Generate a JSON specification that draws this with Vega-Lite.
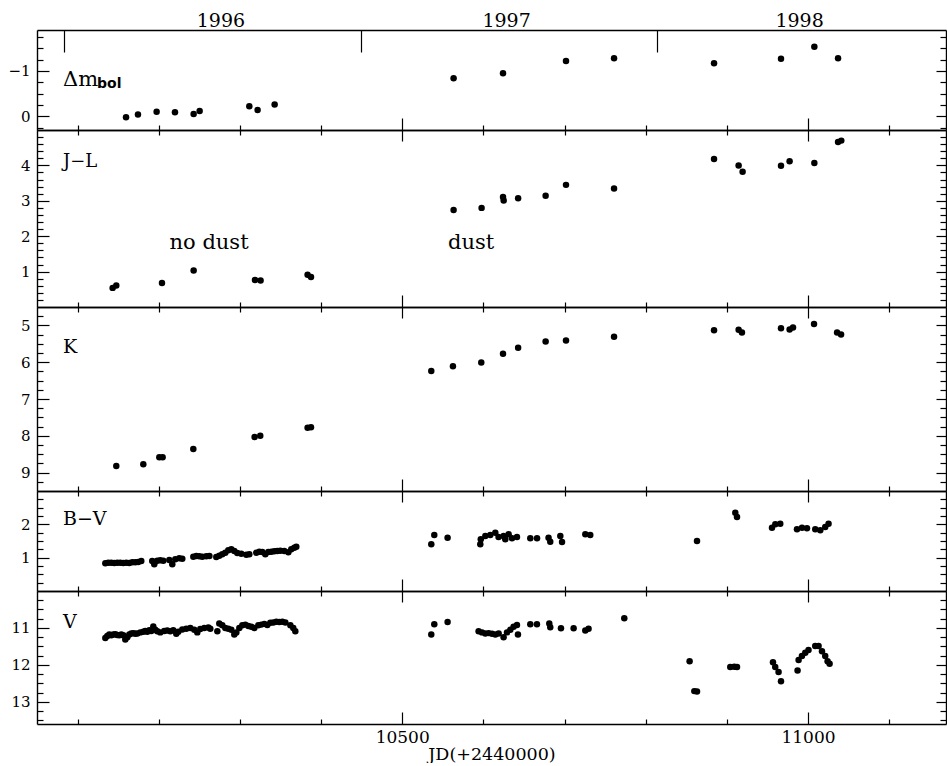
{
  "$schema": "https://vega.github.io/schema/vega-lite/v6.json",
  "background": "white",
  "padding": {"left": 5, "top": 5, "right": 0, "bottom": 0},
  "datasets": {
    "dmbol": [
      {"jd": 10159.7, "mag": 0.02}, {"jd": 10174.4, "mag": -0.04}, {"jd": 10197.4, "mag": -0.10},
      {"jd": 10220.0, "mag": -0.09}, {"jd": 10243.0, "mag": -0.05}, {"jd": 10250.4, "mag": -0.12},
      {"jd": 10311.6, "mag": -0.22}, {"jd": 10321.8, "mag": -0.14}, {"jd": 10342.8, "mag": -0.26},
      {"jd": 10563.3, "mag": -0.84}, {"jd": 10624.2, "mag": -0.95}, {"jd": 10701.8, "mag": -1.22},
      {"jd": 10761.0, "mag": -1.28}, {"jd": 10884.2, "mag": -1.17}, {"jd": 10966.7, "mag": -1.27},
      {"jd": 11007.8, "mag": -1.53}, {"jd": 11037.0, "mag": -1.28}
    ],
    "jl": [
      {"jd": 10143.2, "mag": 0.54}, {"jd": 10147.7, "mag": 0.61}, {"jd": 10204.0, "mag": 0.68},
      {"jd": 10243.0, "mag": 1.03}, {"jd": 10318.6, "mag": 0.76}, {"jd": 10325.5, "mag": 0.75},
      {"jd": 10383.4, "mag": 0.91}, {"jd": 10387.6, "mag": 0.85}, {"jd": 10563.3, "mag": 2.74},
      {"jd": 10597.8, "mag": 2.80}, {"jd": 10624.2, "mag": 3.11}, {"jd": 10625.0, "mag": 3.01},
      {"jd": 10642.8, "mag": 3.07}, {"jd": 10676.7, "mag": 3.14}, {"jd": 10701.8, "mag": 3.45},
      {"jd": 10761.0, "mag": 3.35}, {"jd": 10884.2, "mag": 4.18}, {"jd": 10914.5, "mag": 4.00},
      {"jd": 10919.4, "mag": 3.82}, {"jd": 10966.7, "mag": 3.99}, {"jd": 10977.3, "mag": 4.12},
      {"jd": 11007.8, "mag": 4.07}, {"jd": 11037.0, "mag": 4.66}, {"jd": 11041.0, "mag": 4.70}
    ],
    "k": [
      {"jd": 10147.7, "mag": 8.82}, {"jd": 10181.0, "mag": 8.77}, {"jd": 10200.7, "mag": 8.58},
      {"jd": 10204.8, "mag": 8.58}, {"jd": 10242.6, "mag": 8.36}, {"jd": 10318.1, "mag": 8.03},
      {"jd": 10325.1, "mag": 8.00}, {"jd": 10383.4, "mag": 7.78}, {"jd": 10387.6, "mag": 7.77},
      {"jd": 10535.8, "mag": 6.24}, {"jd": 10562.5, "mag": 6.11}, {"jd": 10597.4, "mag": 6.01},
      {"jd": 10624.2, "mag": 5.77}, {"jd": 10642.8, "mag": 5.61}, {"jd": 10676.7, "mag": 5.44},
      {"jd": 10701.8, "mag": 5.41}, {"jd": 10761.0, "mag": 5.31}, {"jd": 10884.2, "mag": 5.13},
      {"jd": 10914.5, "mag": 5.12}, {"jd": 10918.6, "mag": 5.19}, {"jd": 10966.7, "mag": 5.08},
      {"jd": 10977.3, "mag": 5.11}, {"jd": 10981.5, "mag": 5.06}, {"jd": 11007.4, "mag": 4.96},
      {"jd": 11035.8, "mag": 5.19}, {"jd": 11040.7, "mag": 5.25}
    ],
    "bv": [
      {"jd": 10134.2, "mag": 0.83}, {"jd": 10137.8, "mag": 0.85}, {"jd": 10141.5, "mag": 0.85},
      {"jd": 10145.2, "mag": 0.84}, {"jd": 10148.9, "mag": 0.85}, {"jd": 10152.6, "mag": 0.85},
      {"jd": 10156.3, "mag": 0.84}, {"jd": 10160.0, "mag": 0.85}, {"jd": 10163.7, "mag": 0.84},
      {"jd": 10167.4, "mag": 0.86}, {"jd": 10171.1, "mag": 0.86}, {"jd": 10174.8, "mag": 0.87},
      {"jd": 10178.5, "mag": 0.90}, {"jd": 10192.0, "mag": 0.90}, {"jd": 10194.5, "mag": 0.80},
      {"jd": 10198.2, "mag": 0.91}, {"jd": 10201.9, "mag": 0.92}, {"jd": 10205.6, "mag": 0.91},
      {"jd": 10213.0, "mag": 0.93}, {"jd": 10216.7, "mag": 0.80}, {"jd": 10220.4, "mag": 0.95},
      {"jd": 10225.3, "mag": 0.98}, {"jd": 10229.0, "mag": 0.97}, {"jd": 10242.6, "mag": 1.03},
      {"jd": 10246.3, "mag": 1.05}, {"jd": 10250.0, "mag": 1.04}, {"jd": 10253.7, "mag": 1.03},
      {"jd": 10258.6, "mag": 1.04}, {"jd": 10262.4, "mag": 1.05}, {"jd": 10270.9, "mag": 1.02},
      {"jd": 10274.6, "mag": 1.06}, {"jd": 10278.3, "mag": 1.10}, {"jd": 10282.0, "mag": 1.15},
      {"jd": 10285.7, "mag": 1.22}, {"jd": 10289.4, "mag": 1.25}, {"jd": 10293.1, "mag": 1.20},
      {"jd": 10296.8, "mag": 1.14}, {"jd": 10301.7, "mag": 1.12}, {"jd": 10307.9, "mag": 1.09},
      {"jd": 10311.6, "mag": 1.10}, {"jd": 10320.2, "mag": 1.15}, {"jd": 10323.9, "mag": 1.18},
      {"jd": 10327.6, "mag": 1.17}, {"jd": 10331.3, "mag": 1.10}, {"jd": 10335.0, "mag": 1.17},
      {"jd": 10338.7, "mag": 1.18}, {"jd": 10342.4, "mag": 1.19}, {"jd": 10346.1, "mag": 1.20},
      {"jd": 10349.8, "mag": 1.21}, {"jd": 10354.7, "mag": 1.20}, {"jd": 10359.7, "mag": 1.16},
      {"jd": 10363.3, "mag": 1.25}, {"jd": 10367.0, "mag": 1.30}, {"jd": 10369.5, "mag": 1.33},
      {"jd": 10535.8, "mag": 1.40}, {"jd": 10539.5, "mag": 1.68}, {"jd": 10555.9, "mag": 1.60},
      {"jd": 10596.2, "mag": 1.40}, {"jd": 10596.8, "mag": 1.55}, {"jd": 10602.4, "mag": 1.65},
      {"jd": 10608.5, "mag": 1.68}, {"jd": 10614.7, "mag": 1.75}, {"jd": 10618.7, "mag": 1.62},
      {"jd": 10624.9, "mag": 1.65}, {"jd": 10627.0, "mag": 1.55}, {"jd": 10631.1, "mag": 1.70},
      {"jd": 10635.3, "mag": 1.58}, {"jd": 10641.4, "mag": 1.62}, {"jd": 10657.8, "mag": 1.58},
      {"jd": 10666.1, "mag": 1.58}, {"jd": 10680.3, "mag": 1.60}, {"jd": 10682.4, "mag": 1.48},
      {"jd": 10694.8, "mag": 1.65}, {"jd": 10696.9, "mag": 1.47}, {"jd": 10725.6, "mag": 1.70},
      {"jd": 10731.7, "mag": 1.68}, {"jd": 10863.2, "mag": 1.50}, {"jd": 10910.4, "mag": 2.35},
      {"jd": 10912.5, "mag": 2.22}, {"jd": 10955.6, "mag": 1.90}, {"jd": 10959.7, "mag": 2.00},
      {"jd": 10965.8, "mag": 2.02}, {"jd": 10986.4, "mag": 1.85}, {"jd": 10992.6, "mag": 1.90},
      {"jd": 10998.7, "mag": 1.88}, {"jd": 11008.9, "mag": 1.85}, {"jd": 11015.1, "mag": 1.82},
      {"jd": 11021.2, "mag": 1.92}, {"jd": 11025.3, "mag": 2.02}
    ],
    "v": [
      {"jd": 10134.2, "mag": 11.27}, {"jd": 10136.6, "mag": 11.22}, {"jd": 10139.1, "mag": 11.18},
      {"jd": 10141.5, "mag": 11.20}, {"jd": 10144.0, "mag": 11.18}, {"jd": 10146.5, "mag": 11.17},
      {"jd": 10148.9, "mag": 11.19}, {"jd": 10151.4, "mag": 11.20}, {"jd": 10153.9, "mag": 11.18},
      {"jd": 10156.3, "mag": 11.20}, {"jd": 10158.8, "mag": 11.31}, {"jd": 10161.3, "mag": 11.25},
      {"jd": 10163.7, "mag": 11.18}, {"jd": 10166.2, "mag": 11.15}, {"jd": 10168.7, "mag": 11.14},
      {"jd": 10171.1, "mag": 11.16}, {"jd": 10173.6, "mag": 11.15}, {"jd": 10177.3, "mag": 11.12},
      {"jd": 10181.0, "mag": 11.10}, {"jd": 10183.4, "mag": 11.08}, {"jd": 10185.9, "mag": 11.10},
      {"jd": 10188.4, "mag": 11.06}, {"jd": 10190.8, "mag": 11.08}, {"jd": 10193.3, "mag": 10.96},
      {"jd": 10195.7, "mag": 11.05}, {"jd": 10198.2, "mag": 11.09}, {"jd": 10201.9, "mag": 11.12},
      {"jd": 10206.8, "mag": 11.08}, {"jd": 10210.5, "mag": 11.07}, {"jd": 10214.2, "mag": 11.09},
      {"jd": 10217.9, "mag": 11.06}, {"jd": 10221.6, "mag": 11.16}, {"jd": 10224.1, "mag": 11.10},
      {"jd": 10229.0, "mag": 11.04}, {"jd": 10233.9, "mag": 11.02}, {"jd": 10238.9, "mag": 11.00},
      {"jd": 10243.8, "mag": 11.05}, {"jd": 10247.5, "mag": 11.12}, {"jd": 10251.2, "mag": 11.03},
      {"jd": 10256.1, "mag": 11.00}, {"jd": 10261.1, "mag": 10.99}, {"jd": 10263.5, "mag": 11.02},
      {"jd": 10272.2, "mag": 11.09}, {"jd": 10274.6, "mag": 10.88}, {"jd": 10278.3, "mag": 10.93},
      {"jd": 10282.0, "mag": 11.00}, {"jd": 10285.7, "mag": 11.02}, {"jd": 10289.4, "mag": 11.05},
      {"jd": 10293.1, "mag": 11.18}, {"jd": 10295.6, "mag": 11.12}, {"jd": 10299.3, "mag": 11.00},
      {"jd": 10303.0, "mag": 10.93}, {"jd": 10306.7, "mag": 10.91}, {"jd": 10310.4, "mag": 10.95},
      {"jd": 10314.1, "mag": 10.97}, {"jd": 10317.8, "mag": 11.00}, {"jd": 10322.7, "mag": 10.93},
      {"jd": 10326.4, "mag": 10.91}, {"jd": 10330.1, "mag": 10.89}, {"jd": 10333.8, "mag": 10.92},
      {"jd": 10337.5, "mag": 10.86}, {"jd": 10341.2, "mag": 10.85}, {"jd": 10344.9, "mag": 10.83},
      {"jd": 10348.6, "mag": 10.84}, {"jd": 10352.3, "mag": 10.83}, {"jd": 10356.0, "mag": 10.85},
      {"jd": 10362.2, "mag": 10.93}, {"jd": 10365.8, "mag": 11.00}, {"jd": 10368.3, "mag": 11.09},
      {"jd": 10535.8, "mag": 11.18}, {"jd": 10539.5, "mag": 10.90}, {"jd": 10555.9, "mag": 10.84},
      {"jd": 10594.1, "mag": 11.09}, {"jd": 10598.3, "mag": 11.12}, {"jd": 10602.4, "mag": 11.15},
      {"jd": 10606.5, "mag": 11.14}, {"jd": 10610.6, "mag": 11.16}, {"jd": 10614.7, "mag": 11.18},
      {"jd": 10618.8, "mag": 11.15}, {"jd": 10624.9, "mag": 11.25}, {"jd": 10629.1, "mag": 11.12},
      {"jd": 10633.2, "mag": 11.05}, {"jd": 10637.2, "mag": 10.97}, {"jd": 10641.4, "mag": 10.92},
      {"jd": 10642.6, "mag": 11.18}, {"jd": 10657.8, "mag": 10.90}, {"jd": 10666.0, "mag": 10.90},
      {"jd": 10681.2, "mag": 10.88}, {"jd": 10682.4, "mag": 10.98}, {"jd": 10695.6, "mag": 11.01},
      {"jd": 10711.2, "mag": 11.01}, {"jd": 10725.6, "mag": 11.07}, {"jd": 10729.6, "mag": 11.02},
      {"jd": 10773.6, "mag": 10.74}, {"jd": 10854.1, "mag": 11.90}, {"jd": 10859.9, "mag": 12.71},
      {"jd": 10863.2, "mag": 12.72}, {"jd": 10904.2, "mag": 12.06}, {"jd": 10909.1, "mag": 12.05},
      {"jd": 10912.5, "mag": 12.06}, {"jd": 10956.8, "mag": 11.93}, {"jd": 10959.6, "mag": 12.06},
      {"jd": 10963.7, "mag": 12.19}, {"jd": 10966.7, "mag": 12.44}, {"jd": 10987.1, "mag": 12.15},
      {"jd": 10988.4, "mag": 11.87}, {"jd": 10992.5, "mag": 11.76}, {"jd": 10996.6, "mag": 11.67},
      {"jd": 11000.6, "mag": 11.60}, {"jd": 11008.9, "mag": 11.49}, {"jd": 11013.0, "mag": 11.49},
      {"jd": 11017.2, "mag": 11.63}, {"jd": 11021.2, "mag": 11.76}, {"jd": 11024.1, "mag": 11.90},
      {"jd": 11026.6, "mag": 11.97}
    ],
    "labels": [
      {"panel": "dm", "jd": 10082, "mag": -0.675, "text": "Δm"},
      {"panel": "bol", "jd": 10124, "mag": -0.675, "text": "bol"},
      {"panel": "jl", "jd": 10082, "mag": 3.95, "text": "J−L"},
      {"panel": "note", "jd": 10262, "mag": 1.65, "text": "no dust"},
      {"panel": "note", "jd": 10585, "mag": 1.65, "text": "dust"},
      {"panel": "k", "jd": 10082, "mag": 5.75, "text": "K"},
      {"panel": "bv", "jd": 10082, "mag": 1.98, "text": "B−V"},
      {"panel": "v", "jd": 10082, "mag": 11.0, "text": "V"}
    ]
  },
  "spacing": 0,
  "bounds": "flush",
  "vconcat": [
    {
      "width": 909, "height": 100,
      "resolve": {"axis": {"x": "independent", "y": "independent"}},
      "layer": [
        {
          "data": {"name": "dmbol"},
          "mark": {"type": "circle", "size": 42, "color": "black", "opacity": 1},
          "encoding": {
            "x": {"field": "jd", "type": "quantitative", "scale": {"domain": [10050, 11170], "nice": false, "zero": false},
              "axis": {"orient": "bottom", "values": [10100,10200,10300,10400,10500,10600,10700,10800,10900,11000,11100], "labels": false, "title": null,
                "tickSize": {"condition": {"test": "datum.value % 500 === 0", "value": -12}, "value": -5}}},
            "y": {"field": "mag", "type": "quantitative", "scale": {"domain": [-1.9, 0.3], "reverse": true, "nice": false, "zero": false},
              "axis": {"orient": "left", "values": [-1, 0], "format": "d", "title": null, "labelOverlap": false,
                "labelPadding": 19, "labelFontSize": 15, "minExtent": 32, "maxExtent": 32, "tickSize": -12}}
          }
        },
        {
          "data": {"name": "labels"},
          "transform": [{"filter": "datum.panel === 'dm'"}],
          "mark": {"type": "text", "fontSize": 21, "align": "left", "baseline": "alphabetic", "font": "DejaVu Serif", "color": "black"},
          "encoding": {
            "x": {"field": "jd", "type": "quantitative", "scale": {"domain": [10050, 11170], "nice": false, "zero": false},
              "axis": {"orient": "top", "values": [10083.5, 10449.5, 10814.5, 10276, 10628, 10989], "title": null, "labelOverlap": false,
                "labelExpr": "datum.value == 10276 ? '1996' : datum.value == 10628 ? '1997' : datum.value == 10989 ? '1998' : ''",
                "labelFontSize": 19, "labelPadding": 0, "minExtent": 24.3, "maxExtent": 24.3,
                "tickSize": {"condition": {"test": "datum.value == 10083.5 || datum.value == 10449.5 || datum.value == 10814.5", "value": -22}, "value": 0}}},
            "y": {"field": "mag", "type": "quantitative", "scale": {"domain": [-1.9, 0.3], "reverse": true, "nice": false, "zero": false},
              "axis": {"orient": "right", "values": [-1.75,-1.5,-1.25,-1,-0.75,-0.5,-0.25,0,0.25], "labels": false, "title": null,
                "tickSize": {"condition": {"test": "datum.value % 1 === 0", "value": -10}, "value": -6}}},
            "text": {"field": "text"}
          }
        },
        {
          "data": {"name": "labels"},
          "transform": [{"filter": "datum.panel === 'bol'"}],
          "mark": {"type": "text", "fontSize": 14, "font": "DejaVu Sans", "fontWeight": "bold", "align": "left", "baseline": "alphabetic", "dy": 2, "color": "black"},
          "encoding": {
            "x": {"field": "jd", "type": "quantitative", "scale": {"domain": [10050, 11170], "nice": false, "zero": false}, "axis": null},
            "y": {"field": "mag", "type": "quantitative", "scale": {"domain": [-1.9, 0.3], "reverse": true, "nice": false, "zero": false},
              "axis": {"orient": "left", "values": [-1.75,-1.5,-1.25,-0.75,-0.5,-0.25,0.25], "labels": false, "title": null, "domain": false, "tickSize": -6, "minExtent": 0, "maxExtent": 0}},
            "text": {"field": "text"}
          }
        }
      ]
    },
    {
      "width": 909, "height": 177,
      "resolve": {"axis": {"x": "independent", "y": "independent"}},
      "layer": [
        {
          "data": {"name": "jl"},
          "mark": {"type": "circle", "size": 42, "color": "black", "opacity": 1},
          "encoding": {
            "x": {"field": "jd", "type": "quantitative", "scale": {"domain": [10050, 11170], "nice": false, "zero": false},
              "axis": {"orient": "bottom", "values": [10100,10200,10300,10400,10500,10600,10700,10800,10900,11000,11100], "labels": false, "title": null,
                "tickSize": {"condition": {"test": "datum.value % 500 === 0", "value": -12}, "value": -5}}},
            "y": {"field": "mag", "type": "quantitative", "scale": {"domain": [0, 5], "nice": false, "zero": false},
              "axis": {"orient": "left", "values": [1, 2, 3, 4], "format": "d", "title": null, "labelOverlap": false,
                "labelPadding": 19, "labelFontSize": 15, "minExtent": 32, "maxExtent": 32, "tickSize": -12}}
          }
        },
        {
          "data": {"name": "labels"},
          "transform": [{"filter": "datum.panel === 'jl'"}],
          "mark": {"type": "text", "fontSize": 18, "align": "left", "baseline": "alphabetic", "font": "DejaVu Serif", "color": "black"},
          "encoding": {
            "x": {"field": "jd", "type": "quantitative", "scale": {"domain": [10050, 11170], "nice": false, "zero": false},
              "axis": {"orient": "top", "values": [10100,10200,10300,10400,10500,10600,10700,10800,10900,11000,11100], "labels": false, "title": null,
                "tickSize": {"condition": {"test": "datum.value % 500 === 0", "value": -11}, "value": -5}}},
            "y": {"field": "mag", "type": "quantitative", "scale": {"domain": [0, 5], "nice": false, "zero": false},
              "axis": {"orient": "right", "values": [0.2,0.4,0.6,0.8,1,1.2,1.4,1.6,1.8,2,2.2,2.4,2.6,2.8,3,3.2,3.4,3.6,3.8,4,4.2,4.4,4.6,4.8], "labels": false, "title": null,
                "tickSize": {"condition": {"test": "datum.value % 1 === 0", "value": -10}, "value": -6}}},
            "text": {"field": "text"}
          }
        },
        {
          "data": {"name": "labels"},
          "transform": [{"filter": "datum.panel === 'note'"}],
          "mark": {"type": "text", "fontSize": 21, "align": "center", "baseline": "alphabetic", "font": "DejaVu Serif", "color": "black"},
          "encoding": {
            "x": {"field": "jd", "type": "quantitative", "scale": {"domain": [10050, 11170], "nice": false, "zero": false}, "axis": null},
            "y": {"field": "mag", "type": "quantitative", "scale": {"domain": [0, 5], "nice": false, "zero": false},
              "axis": {"orient": "left", "values": [0.2,0.4,0.6,0.8,1.2,1.4,1.6,1.8,2.2,2.4,2.6,2.8,3.2,3.4,3.6,3.8,4.2,4.4,4.6,4.8], "labels": false, "title": null, "domain": false, "tickSize": -6, "minExtent": 0, "maxExtent": 0}},
            "text": {"field": "text"}
          }
        }
      ]
    },
    {
      "width": 909, "height": 184,
      "resolve": {"axis": {"x": "independent", "y": "independent"}},
      "layer": [
        {
          "data": {"name": "k"},
          "mark": {"type": "circle", "size": 42, "color": "black", "opacity": 1},
          "encoding": {
            "x": {"field": "jd", "type": "quantitative", "scale": {"domain": [10050, 11170], "nice": false, "zero": false},
              "axis": {"orient": "bottom", "values": [10100,10200,10300,10400,10500,10600,10700,10800,10900,11000,11100], "labels": false, "title": null,
                "tickSize": {"condition": {"test": "datum.value % 500 === 0", "value": -12}, "value": -5}}},
            "y": {"field": "mag", "type": "quantitative", "scale": {"domain": [4.5, 9.5], "reverse": true, "nice": false, "zero": false},
              "axis": {"orient": "left", "values": [5, 6, 7, 8, 9], "format": "d", "title": null, "labelOverlap": false,
                "labelPadding": 19, "labelFontSize": 15, "minExtent": 32, "maxExtent": 32, "tickSize": -12}}
          }
        },
        {
          "data": {"name": "labels"},
          "transform": [{"filter": "datum.panel === 'k'"}],
          "mark": {"type": "text", "fontSize": 19, "align": "left", "baseline": "alphabetic", "font": "DejaVu Serif", "color": "black"},
          "encoding": {
            "x": {"field": "jd", "type": "quantitative", "scale": {"domain": [10050, 11170], "nice": false, "zero": false},
              "axis": {"orient": "top", "values": [10100,10200,10300,10400,10500,10600,10700,10800,10900,11000,11100], "labels": false, "title": null,
                "tickSize": {"condition": {"test": "datum.value % 500 === 0", "value": -11}, "value": -5}}},
            "y": {"field": "mag", "type": "quantitative", "scale": {"domain": [4.5, 9.5], "reverse": true, "nice": false, "zero": false},
              "axis": {"orient": "right", "values": [4.75,5,5.25,5.5,5.75,6,6.25,6.5,6.75,7,7.25,7.5,7.75,8,8.25,8.5,8.75,9,9.25], "labels": false, "title": null,
                "tickSize": {"condition": {"test": "datum.value % 1 === 0", "value": -10}, "value": -6}}},
            "text": {"field": "text"}
          }
        },
        {
          "data": {"name": "k"},
          "mark": {"type": "circle", "size": 42, "color": "black", "opacity": 0},
          "encoding": {
            "x": {"field": "jd", "type": "quantitative", "scale": {"domain": [10050, 11170], "nice": false, "zero": false}, "axis": null},
            "y": {"field": "mag", "type": "quantitative", "scale": {"domain": [4.5, 9.5], "reverse": true, "nice": false, "zero": false},
              "axis": {"orient": "left", "values": [4.75,5.25,5.5,5.75,6.25,6.5,6.75,7.25,7.5,7.75,8.25,8.5,8.75,9.25], "labels": false, "title": null, "domain": false, "tickSize": -6, "minExtent": 0, "maxExtent": 0}}
          }
        }
      ]
    },
    {
      "width": 909, "height": 100,
      "resolve": {"axis": {"x": "independent", "y": "independent"}},
      "layer": [
        {
          "data": {"name": "bv"},
          "mark": {"type": "circle", "size": 42, "color": "black", "opacity": 1},
          "encoding": {
            "x": {"field": "jd", "type": "quantitative", "scale": {"domain": [10050, 11170], "nice": false, "zero": false},
              "axis": {"orient": "bottom", "values": [10100,10200,10300,10400,10500,10600,10700,10800,10900,11000,11100], "labels": false, "title": null,
                "tickSize": {"condition": {"test": "datum.value % 500 === 0", "value": -12}, "value": -5}}},
            "y": {"field": "mag", "type": "quantitative", "scale": {"domain": [0, 3], "nice": false, "zero": false},
              "axis": {"orient": "left", "values": [1, 2], "format": "d", "title": null, "labelOverlap": false,
                "labelPadding": 19, "labelFontSize": 15, "minExtent": 32, "maxExtent": 32, "tickSize": -12}}
          }
        },
        {
          "data": {"name": "labels"},
          "transform": [{"filter": "datum.panel === 'bv'"}],
          "mark": {"type": "text", "fontSize": 19, "align": "left", "baseline": "alphabetic", "font": "DejaVu Serif", "color": "black"},
          "encoding": {
            "x": {"field": "jd", "type": "quantitative", "scale": {"domain": [10050, 11170], "nice": false, "zero": false},
              "axis": {"orient": "top", "values": [10100,10200,10300,10400,10500,10600,10700,10800,10900,11000,11100], "labels": false, "title": null,
                "tickSize": {"condition": {"test": "datum.value % 500 === 0", "value": -11}, "value": -5}}},
            "y": {"field": "mag", "type": "quantitative", "scale": {"domain": [0, 3], "nice": false, "zero": false},
              "axis": {"orient": "right", "values": [0.25,0.5,0.75,1,1.25,1.5,1.75,2,2.25,2.5,2.75], "labels": false, "title": null,
                "tickSize": {"condition": {"test": "datum.value % 1 === 0", "value": -10}, "value": -6}}},
            "text": {"field": "text"}
          }
        },
        {
          "data": {"name": "bv"},
          "mark": {"type": "circle", "size": 42, "color": "black", "opacity": 0},
          "encoding": {
            "x": {"field": "jd", "type": "quantitative", "scale": {"domain": [10050, 11170], "nice": false, "zero": false}, "axis": null},
            "y": {"field": "mag", "type": "quantitative", "scale": {"domain": [0, 3], "nice": false, "zero": false},
              "axis": {"orient": "left", "values": [0.25,0.5,0.75,1.25,1.5,1.75,2.25,2.5,2.75], "labels": false, "title": null, "domain": false, "tickSize": -6, "minExtent": 0, "maxExtent": 0}}
          }
        }
      ]
    },
    {
      "width": 909, "height": 133,
      "resolve": {"axis": {"x": "independent", "y": "independent"}},
      "layer": [
        {
          "data": {"name": "v"},
          "mark": {"type": "circle", "size": 42, "color": "black", "opacity": 1},
          "encoding": {
            "x": {"field": "jd", "type": "quantitative", "scale": {"domain": [10050, 11170], "nice": false, "zero": false},
              "axis": {"orient": "bottom", "values": [10100,10200,10300,10400,10500,10600,10700,10800,10900,11000,11100], "format": "d", "labelOverlap": false,
                "labelExpr": "datum.value % 500 === 0 ? datum.label : ''", "labelFontSize": 17, "labelPadding": 17,
                "title": "JD(+2440000)", "titleFontSize": 17.5, "titlePadding": 0, "minExtent": 21, "maxExtent": 21,
                "tickSize": {"condition": {"test": "datum.value % 500 === 0", "value": -12}, "value": -5}}},
            "y": {"field": "mag", "type": "quantitative", "scale": {"domain": [10, 13.6], "reverse": true, "nice": false, "zero": false},
              "axis": {"orient": "left", "values": [11, 12, 13], "format": "d", "title": null, "labelOverlap": false,
                "labelPadding": 19, "labelFontSize": 15, "minExtent": 32, "maxExtent": 32, "tickSize": -12}}
          }
        },
        {
          "data": {"name": "labels"},
          "transform": [{"filter": "datum.panel === 'v'"}],
          "mark": {"type": "text", "fontSize": 19, "align": "left", "baseline": "alphabetic", "font": "DejaVu Serif", "color": "black"},
          "encoding": {
            "x": {"field": "jd", "type": "quantitative", "scale": {"domain": [10050, 11170], "nice": false, "zero": false},
              "axis": {"orient": "top", "values": [10100,10200,10300,10400,10500,10600,10700,10800,10900,11000,11100], "labels": false, "title": null,
                "tickSize": {"condition": {"test": "datum.value % 500 === 0", "value": -11}, "value": -5}}},
            "y": {"field": "mag", "type": "quantitative", "scale": {"domain": [10, 13.6], "reverse": true, "nice": false, "zero": false},
              "axis": {"orient": "right", "values": [10.25,10.5,10.75,11,11.25,11.5,11.75,12,12.25,12.5,12.75,13,13.25,13.5], "labels": false, "title": null,
                "tickSize": {"condition": {"test": "datum.value % 1 === 0", "value": -10}, "value": -6}}},
            "text": {"field": "text"}
          }
        },
        {
          "data": {"name": "v"},
          "mark": {"type": "circle", "size": 42, "color": "black", "opacity": 0},
          "encoding": {
            "x": {"field": "jd", "type": "quantitative", "scale": {"domain": [10050, 11170], "nice": false, "zero": false}, "axis": null},
            "y": {"field": "mag", "type": "quantitative", "scale": {"domain": [10, 13.6], "reverse": true, "nice": false, "zero": false},
              "axis": {"orient": "left", "values": [10.25,10.5,10.75,11.25,11.5,11.75,12.25,12.5,12.75,13.25,13.5], "labels": false, "title": null, "domain": false, "tickSize": -6, "minExtent": 0, "maxExtent": 0}}
          }
        }
      ]
    }
  ],
  "config": {
    "view": {"stroke": null},
    "font": "DejaVu Serif",
    "axis": {
      "grid": false, "domainColor": "black", "domainWidth": 1.4, "tickColor": "black", "tickWidth": 1.2,
      "labelColor": "black", "labelFont": "DejaVu Serif", "labelFontSize": 14,
      "titleFont": "DejaVu Serif", "titleFontWeight": "normal", "titleColor": "black",
      "labelOverlap": false, "labelFlush": false
    }
  }
}
